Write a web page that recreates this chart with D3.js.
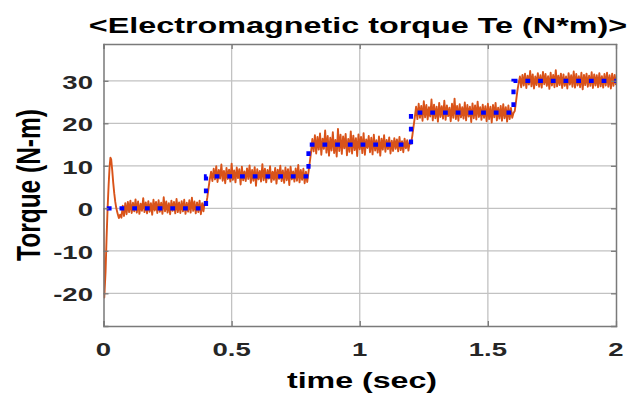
<!DOCTYPE html>
<html>
<head>
<meta charset="utf-8">
<script src="https://cdn.jsdelivr.net/npm/d3@7"></script>
<style>
  html, body { margin: 0; padding: 0; background: #fff; }
  svg { display: block; }
  text { font-family: "Liberation Sans", Arial, Helvetica, sans-serif; font-weight: bold; }
</style>
</head>
<body>
<svg id="chart" width="631" height="397"></svg>
<script>
// ---- data -------------------------------------------------------------
const xTicks = [0, 0.5, 1, 1.5, 2];
const xTickLabels = ["0", "0.5", "1", "1.5", "2"];
const yTicks = [-20, -10, 0, 10, 20, 30];
const yTickLabels = ["-20", "-10", "0", "10", "20", "30"];

// commanded torque: step times and levels
const refStepTimes = [0, 0.4, 0.8, 1.2, 1.6, 2.0];
const refLevels = [0, 7.5, 15, 22.5, 30];

// start-up transient of the measured torque
const startTimes  = [0, 0.003, 0.008, 0.012, 0.016, 0.02, 0.024, 0.027, 0.03, 0.034, 0.038, 0.042, 0.046, 0.05, 0.055, 0.06, 0.065];
const startTorque = [0, -21, -15, -7, 0, 5.5, 10, 11.9, 11.5, 9, 6, 3.5, 1.5, 0, -1.2, -2.3, -1.5];

// measured torque, sampled every 5 ms, one array per load step
const sampleStep = 0.005;
const segStart = [0.07, 0.4, 0.8, 1.2, 1.6];
const teSeg1 = [-2.2, 0.6, -1.8, 1.2, -1.4, 1.5, -0.9, 1.8, -1.1, 1.3,
  -0.7, 2.1, -1.0, 1.6, -1.3, 1.1, -0.6, 2.4, -0.9, 1.4,
  -1.2, 1.7, -0.8, 1.2, -1.5, 2.0, -0.5, 1.5, -1.1, 1.9,
  -0.8, 1.3, -1.3, 2.6, -0.7, 1.6, -1.0, 1.2, -1.4, 1.8,
  -0.6, 1.5, -1.2, 2.2, -0.9, 1.4, -1.1, 1.7, -0.7, 2.0,
  -1.3, 1.3, -0.8, 1.9, -1.0, 2.5, -0.6, 1.6, -1.2, 1.4,
  -0.9, 1.8, -1.4, 1.2, -0.7, 1.5];
const teSeg2 = [0.8, 2.5, 4.8, 6.9, 8.6, 6.4, 9.3, 6.8, 9.9, 6.2,
  9.0, 7.0, 10.3, 6.5, 8.8, 5.9, 9.5, 6.9, 9.1, 6.3,
  10.5, 6.7, 8.9, 6.1, 9.6, 7.1, 9.2, 5.6, 9.8, 6.6,
  8.7, 6.4, 9.4, 6.9, 10.1, 6.0, 9.0, 6.5, 9.7, 5.3,
  9.2, 6.8, 8.8, 6.3, 10.4, 6.6, 9.3, 6.1, 9.0, 7.0,
  9.9, 6.2, 8.6, 6.7, 9.5, 5.8, 9.1, 6.9, 10.0, 6.4,
  8.9, 6.0, 9.6, 6.6, 9.2, 5.5, 9.8, 6.8, 8.7, 6.3,
  9.4, 6.5, 10.2, 6.1, 9.0, 6.7, 9.3, 5.9, 8.6, 6.2];
const teSeg3 = [8.6, 10.8, 13.2, 16.3, 13.4, 17.2, 12.9, 16.8, 13.8, 17.6,
  12.6, 16.4, 14.0, 18.3, 13.1, 17.0, 12.4, 16.6, 13.6, 17.9,
  13.0, 16.1, 12.2, 18.7, 13.5, 17.3, 12.8, 16.9, 14.1, 17.5,
  12.5, 16.3, 13.3, 18.1, 12.9, 17.1, 13.7, 16.5, 12.3, 17.4,
  13.9, 16.8, 13.0, 17.7, 12.6, 16.2, 14.2, 17.0, 13.2, 16.6,
  12.7, 17.3, 13.6, 16.0, 13.1, 16.9, 12.4, 16.4, 13.8, 17.2,
  13.3, 16.1, 13.9, 16.7, 12.9, 15.9, 13.5, 16.5, 14.0, 16.2,
  13.4, 16.8, 13.7, 15.8, 13.2, 16.4, 14.1, 16.0, 13.6, 15.7];
const teSeg4 = [15.2, 17.0, 19.3, 21.5, 23.9, 21.0, 24.6, 21.3, 24.1, 20.6,
  25.2, 21.4, 24.3, 20.9, 23.8, 21.6, 25.6, 20.7, 24.4, 21.2,
  23.9, 20.4, 24.8, 21.5, 24.0, 21.1, 25.3, 20.8, 24.2, 21.7,
  23.7, 20.5, 24.6, 21.3, 25.8, 21.0, 24.1, 20.6, 24.5, 21.4,
  23.8, 21.1, 24.9, 20.7, 24.3, 21.6, 23.9, 20.3, 24.7, 21.2,
  24.2, 20.9, 25.1, 21.5, 23.8, 20.8, 24.4, 21.3, 24.0, 20.5,
  24.6, 21.0, 23.9, 20.2, 24.3, 21.4, 24.8, 20.7, 23.7, 21.1,
  24.1, 20.6, 24.5, 21.2, 23.8, 20.4, 24.2, 21.0, 23.6, 21.3];
const teSeg5 = [22.4, 22.9, 25.2, 27.6, 29.4, 31.0, 28.5, 31.4, 28.9, 31.7,
  28.3, 31.2, 29.1, 32.3, 28.7, 31.5, 28.2, 31.0, 29.0, 31.8,
  28.6, 31.3, 28.4, 32.1, 29.2, 31.6, 28.8, 31.1, 28.1, 31.9,
  28.9, 31.4, 28.5, 32.5, 28.7, 31.2, 29.0, 31.7, 28.3, 31.5,
  28.8, 31.0, 28.2, 31.8, 29.1, 31.3, 28.6, 32.2, 28.4, 31.6,
  28.9, 31.1, 28.5, 31.9, 28.0, 31.4, 29.0, 31.7, 28.6, 31.2,
  28.8, 32.0, 28.3, 31.5, 28.9, 31.3, 28.5, 31.8, 28.7, 31.1,
  28.4, 31.6, 28.9, 31.9, 28.6, 31.3, 28.2, 31.7, 28.8, 31.4, 29.0];

// ---- layout -----------------------------------------------------------
const W = 631, H = 397;
const plot = { left: 103.5, right: 616, top: 44, bottom: 326 };
const SX = 1.45;                 // horizontal stretch of all lettering
const axisColor = "#7a7a7a";
const gridColor = "#c2c2c2";
const tickTextColor = "#262626";

const x = d3.scaleLinear().domain([0, 2]).range([plot.left, plot.right]);
const y = d3.scaleLinear().domain([-27.69, 38.66]).range([plot.bottom, plot.top]);

const svg = d3.select("#chart");

// grid
const grid = svg.append("g");
grid.selectAll("line.gx").data(xTicks.slice(1, -1)).enter().append("line")
  .attr("x1", d => x(d)).attr("x2", d => x(d))
  .attr("y1", plot.top).attr("y2", plot.bottom)
  .attr("stroke", gridColor).attr("stroke-width", 1.3);
grid.selectAll("line.gy").data(yTicks).enter().append("line")
  .attr("x1", plot.left).attr("x2", plot.right)
  .attr("y1", d => y(d)).attr("y2", d => y(d))
  .attr("stroke", gridColor).attr("stroke-width", 1.3);

// clip region for the traces
svg.append("clipPath").attr("id", "plotClip").append("rect")
  .attr("x", plot.left).attr("y", plot.top)
  .attr("width", plot.right - plot.left).attr("height", plot.bottom - plot.top);

// measured torque trace
const measured = startTimes.map((t, i) => [t, startTorque[i]]);
[teSeg1, teSeg2, teSeg3, teSeg4, teSeg5].forEach((seg, k) => {
  seg.forEach((v, i) => measured.push([segStart[k] + i * sampleStep, v]));
});
svg.append("path")
  .attr("clip-path", "url(#plotClip)")
  .attr("d", d3.line().x(d => x(d[0])).y(d => y(d[1]))(measured))
  .attr("fill", "none")
  .attr("stroke", "#D95319")
  .attr("stroke-width", 1.9)
  .attr("stroke-linejoin", "round");

// commanded torque (dotted staircase)
const refPts = refStepTimes.map((t, i) => [t, refLevels[Math.min(i, refLevels.length - 1)]]);
svg.append("path")
  .attr("clip-path", "url(#plotClip)")
  .attr("d", d3.line().curve(d3.curveStepAfter).x(d => x(d[0])).y(d => y(d[1]))(refPts))
  .attr("fill", "none")
  .attr("stroke", "#0000FF")
  .attr("stroke-width", 4.2)
  .attr("stroke-dasharray", "4.8 7.9")
  .attr("stroke-dashoffset", 9.4);

// axes box and inward ticks
const xAxisB = d3.axisBottom(x).tickValues(xTicks).tickSize(-5).tickFormat("");
const xAxisT = d3.axisTop(x).tickValues(xTicks).tickSize(-5).tickFormat("");
const yAxisL = d3.axisLeft(y).tickValues(yTicks).tickSize(-5).tickFormat("");
const yAxisR = d3.axisRight(y).tickValues(yTicks).tickSize(-5).tickFormat("");
function styleAxis(g) {
  g.select(".domain").attr("stroke", axisColor).attr("stroke-width", 1.5);
  g.selectAll(".tick line").attr("stroke", axisColor).attr("stroke-width", 1.3);
}
svg.append("g").attr("transform", `translate(0,${plot.bottom})`).call(xAxisB).call(styleAxis);
svg.append("g").attr("transform", `translate(0,${plot.top})`).call(xAxisT).call(styleAxis);
svg.append("g").attr("transform", `translate(${plot.left},0)`).call(yAxisL).call(styleAxis);
svg.append("g").attr("transform", `translate(${plot.right},0)`).call(yAxisR).call(styleAxis);
svg.selectAll(".domain").attr("d", function () { return d3.select(this).attr("d").replace(/V-?5/g, "V0").replace(/H-?5/g, "H0"); });

// lettering helper: stretched horizontally
function label(txt, px, py, size, anchor, color) {
  const g = svg.append("g")
    .attr("transform", `translate(${px},${py}) scale(${SX},1)`);
  g.append("text")
    .attr("text-anchor", anchor)
    .attr("font-size", size)
    .attr("fill", color)
    .text(txt);
  return g;
}

// tick labels
xTicks.forEach((v, i) => label(xTickLabels[i], x(v), 356, 19, "middle", tickTextColor));
yTicks.forEach((v, i) => label(yTickLabels[i], 93, y(v) + 8, 19, "end", tickTextColor));

// axis titles and chart title
label("time (sec)", 362, 388, 22.2, "middle", "#000");
{
  const g = svg.append("g").attr("transform", `translate(40,185) scale(1.35,1) rotate(-90)`);
  g.append("text").attr("text-anchor", "middle").attr("font-size", 24.5).attr("fill", "#000").text("Torque (N-m)");
}
label("<Electromagnetic torque Te (N*m)>", 358, 33.3, 22.3, "middle", "#000");
</script>
</body>
</html>
